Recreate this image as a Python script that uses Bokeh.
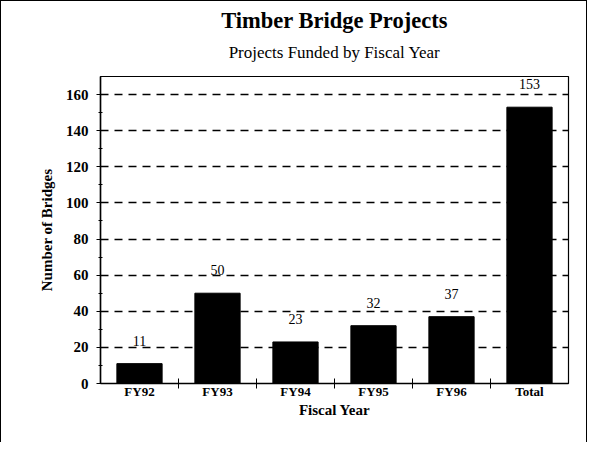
from bokeh.plotting import figure
from bokeh.models import Range1d, FixedTicker, Title, ColumnDataSource
from bokeh.embed import file_html
from bokeh.resources import INLINE
from bokeh.core.properties import value

categories = ["FY92", "FY93", "FY94", "FY95", "FY96", "Total"]
bridges = [11, 50, 23, 32, 37, 153]
bar_labels = ["11", "50", "23", "32", "37", "153"]
y_ticks = [0, 20, 40, 60, 80, 100, 120, 140, 160]

FONT = "Liberation Serif"

xpos = [i + 0.5 for i in range(len(categories))]
src = ColumnDataSource(dict(x=xpos, top=bridges, lab=bar_labels))

p = figure(width=587, height=442, output_backend="svg", toolbar_location=None,
           x_range=Range1d(0, len(categories)), y_range=Range1d(0, 170),
           title=None, min_border_left=99, min_border_right=20,
           min_border_bottom=60, min_border_top=10)

p.add_layout(Title(text=" ", text_font=FONT, text_font_size="9px",
                   standoff=0), "above")
p.add_layout(Title(text="Projects Funded by Fiscal Year", align="center",
                   text_font=FONT, text_font_size="17px", text_font_style="normal",
                   text_color="black", standoff=6), "above")
p.add_layout(Title(text="Timber Bridge Projects", align="center",
                   text_font=FONT, text_font_size="22.5px", text_font_style="bold",
                   text_color="black", standoff=9), "above")

p.vbar(x="x", top="top", width=0.58, bottom=0, source=src,
       fill_color="black", line_color="black")
p.text(x="x", y="top", text="lab", source=src, y_offset=-18,
       text_align="center", text_baseline="bottom",
       text_font=value(FONT), text_font_size="14px", text_color="black")

# axes
p.xaxis.ticker = FixedTicker(ticks=xpos, minor_ticks=[1, 2, 3, 4, 5])
p.xaxis.major_label_overrides = {x: c for x, c in zip(xpos, categories)}
p.xaxis.major_tick_in = 0
p.xaxis.major_tick_out = 0
p.xaxis.minor_tick_in = 5
p.xaxis.minor_tick_out = 5
p.xaxis.minor_tick_line_color = "black"
p.xaxis.axis_label = "Fiscal Year"
p.xaxis.major_label_standoff = -5

p.yaxis.ticker = FixedTicker(ticks=y_ticks,
                             minor_ticks=[10, 30, 50, 70, 90, 110, 130, 150])
p.yaxis.axis_label = "Number of Bridges"
p.yaxis.major_tick_in = 4
p.yaxis.major_tick_out = 4
p.yaxis.minor_tick_in = 2
p.yaxis.minor_tick_out = 2
p.yaxis.minor_tick_line_color = "black"
p.yaxis.major_label_standoff = 8

for ax in (p.xaxis, p.yaxis):
    ax.axis_line_color = "black"
    ax.axis_line_width = 1.5
    ax.major_tick_line_color = "black"
    ax.major_label_text_font = FONT
    ax.major_label_text_font_style = "bold"
    ax.major_label_text_color = "black"
    ax.axis_label_text_font = FONT
    ax.axis_label_text_font_style = "bold"
    ax.axis_label_text_font_size = "15px"
    ax.axis_label_text_color = "black"
p.xaxis.major_label_text_font_size = "13px"
p.yaxis.major_label_text_font_size = "15px"
p.xaxis.axis_label_standoff = 0
p.yaxis.axis_label_standoff = 8

p.xgrid.grid_line_color = None
p.ygrid.ticker = FixedTicker(ticks=y_ticks[1:])
p.ygrid.grid_line_color = "black"
p.ygrid.grid_line_dash = "8 6"
p.ygrid.grid_line_width = 1.5

p.outline_line_color = "black"
p.outline_line_width = 1.2
p.styles = {"border-left": "1px solid black", "border-top": "1px solid black",
            "border-right": "1px solid black"}

open("out.html", "w").write(file_html(p, INLINE))
